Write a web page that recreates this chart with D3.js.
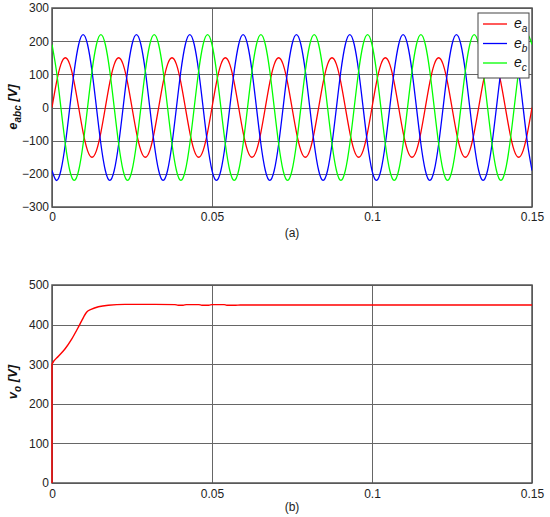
<!DOCTYPE html>
<html>
<head>
<meta charset="utf-8">
<script src="https://cdn.jsdelivr.net/npm/d3@7"></script>
<style>
  html, body { margin: 0; padding: 0; background: #fff; }
  svg { display: block; font-family: "Liberation Sans", Arial, sans-serif; }
</style>
</head>
<body>
<svg id="chart" width="550" height="517"></svg>
<script>
// ---------------- data ----------------
const sampleStep = 1 / 720;          // s, one sample every 30 electrical degrees (60 Hz)
const seriesNames = ["a", "b", "c"];
const seriesColors = ["#ff0000", "#0000ff", "#00ff00"];

const ea = [
  0, 75, 130, 150, 130, 75, 0, -75, -130, -150, -130, -75,
  0, 75, 130, 150, 130, 75, 0, -75, -130, -150, -130, -75,
  0, 75, 130, 150, 130, 75, 0, -75, -130, -150, -130, -75,
  0, 75, 130, 150, 130, 75, 0, -75, -130, -150, -130, -75,
  0, 75, 130, 150, 130, 75, 0, -75, -130, -150, -130, -75,
  0, 75, 130, 150, 130, 75, 0, -75, -130, -150, -130, -75,
  0, 75, 130, 150, 130, 75, 0, -75, -130, -150, -130, -75,
  0, 75, 130, 150, 130, 75, 0, -75, -130, -150, -130, -75,
  0, 75, 130, 150, 130, 75, 0, -75, -130, -150, -130, -75,
  0
];
const eb = [
  -190, -220, -190, -110, 0, 110, 190, 220, 190, 110, 0, -110,
  -190, -220, -190, -110, 0, 110, 190, 220, 190, 110, 0, -110,
  -190, -220, -190, -110, 0, 110, 190, 220, 190, 110, 0, -110,
  -190, -220, -190, -110, 0, 110, 190, 220, 190, 110, 0, -110,
  -190, -220, -190, -110, 0, 110, 190, 220, 190, 110, 0, -110,
  -190, -220, -190, -110, 0, 110, 190, 220, 190, 110, 0, -110,
  -190, -220, -190, -110, 0, 110, 190, 220, 190, 110, 0, -110,
  -190, -220, -190, -110, 0, 110, 190, 220, 190, 110, 0, -110,
  -190, -220, -190, -110, 0, 110, 190, 220, 190, 110, 0, -110,
  -190
];
const ec = [
  190, 110, 0, -110, -190, -220, -190, -110, 0, 110, 190, 220,
  190, 110, 0, -110, -190, -220, -190, -110, 0, 110, 190, 220,
  190, 110, 0, -110, -190, -220, -190, -110, 0, 110, 190, 220,
  190, 110, 0, -110, -190, -220, -190, -110, 0, 110, 190, 220,
  190, 110, 0, -110, -190, -220, -190, -110, 0, 110, 190, 220,
  190, 110, 0, -110, -190, -220, -190, -110, 0, 110, 190, 220,
  190, 110, 0, -110, -190, -220, -190, -110, 0, 110, 190, 220,
  190, 110, 0, -110, -190, -220, -190, -110, 0, 110, 190, 220,
  190, 110, 0, -110, -190, -220, -190, -110, 0, 110, 190, 220,
  190
];

const voTime = [0, 0, 0.002, 0.0041, 0.0062, 0.0082, 0.0093, 0.0108, 0.0124, 0.0145, 0.0176, 0.0228,
                0.0322, 0.0384, 0.0394, 0.041, 0.042, 0.0459, 0.0468, 0.049, 0.05, 0.0538,
                0.0546, 0.0574, 0.0588, 0.15];
const voValue = [0, 300, 320, 339, 364, 393, 410, 431, 439, 445, 449, 451,
                 451, 450.5, 449, 449, 450.5, 450.5, 449, 449, 450.5, 450.5,
                 449, 449, 449.5, 449.5];

const xTicks = [0, 0.05, 0.1, 0.15];
const xTickLabels = ["0", "0.05", "0.1", "0.15"];
const yTicksTop = [-300, -200, -100, 0, 100, 200, 300];
const yTicksBottom = [0, 100, 200, 300, 400, 500];

// ---------------- layout ----------------
const svg = d3.select("#chart");
const left = 52, right = 532;
const gridColor = "#666";
const boxColor = "#555";

const x = d3.scaleLinear().domain([0, 0.15]).range([left, right]);
const yTop = d3.scaleLinear().domain([-300, 300]).range([207, 8]);
const yBot = d3.scaleLinear().domain([0, 500]).range([483, 285]);

function panel(y, yTicks, xPad) {
  const g = svg.append("g");
  const [y0, y1] = y.range();
  g.append("g").attr("transform", `translate(${left},0)`)
    .call(d3.axisLeft(y).tickValues(yTicks).tickSize(-(right - left)).tickPadding(3).tickFormat(d3.format("d")))
    .call(a => a.select(".domain").remove())
    .call(a => a.selectAll("line").attr("stroke", gridColor).attr("stroke-width", 1).attr("shape-rendering", "crispEdges"))
    .call(a => a.selectAll("text").attr("fill", "#222").style("font-size", "12px"));
  g.append("g").attr("transform", `translate(0,${y0})`)
    .call(d3.axisBottom(x).tickValues(xTicks).tickSize(-(y0 - y1)).tickPadding(xPad)
      .tickFormat((d, i) => xTickLabels[i]))
    .call(a => a.select(".domain").remove())
    .call(a => a.selectAll("line").attr("stroke", gridColor).attr("stroke-width", 1).attr("shape-rendering", "crispEdges"))
    .call(a => a.selectAll("text").attr("fill", "#222").style("font-size", "12px"));
  return g;
}

function frame(y) {
  const [y0, y1] = y.range();
  svg.append("rect").attr("x", left).attr("y", y1).attr("width", right - left).attr("height", y0 - y1)
    .attr("fill", "none").attr("stroke", boxColor).attr("stroke-width", 1.5);
}

// ---- top panel ----
panel(yTop, yTicksTop, 5);
frame(yTop);
const topSeries = [ea, eb, ec];
const lineTop = d3.line().x((d, i) => x(i * sampleStep)).y(d => yTop(d)).curve(d3.curveNatural);
svg.append("defs").append("clipPath").attr("id", "clipTop")
  .append("rect").attr("x", left).attr("y", 8).attr("width", right - left).attr("height", 199);
topSeries.forEach((s, k) => {
  svg.append("path").datum(s).attr("d", lineTop).attr("fill", "none")
    .attr("stroke", seriesColors[k]).attr("stroke-width", 1.3).attr("clip-path", "url(#clipTop)");
});

// legend
const lg = svg.append("g");
lg.append("rect").attr("x", 478).attr("y", 13).attr("width", 51).attr("height", 65)
  .attr("fill", "#fff").attr("stroke", "#444").attr("stroke-width", 1);
seriesNames.forEach((n, k) => {
  const yy = 24 + k * 19.5;
  lg.append("line").attr("x1", 483).attr("x2", 507).attr("y1", yy).attr("y2", yy)
    .attr("stroke", seriesColors[k]).attr("stroke-width", 1.3);
  const t = lg.append("text").attr("x", 514).attr("y", yy + 4).attr("fill", "#111")
    .style("font-size", "14px").style("font-style", "italic");
  t.append("tspan").text("e");
  t.append("tspan").attr("dy", 4).style("font-size", "10px").text(n);
});

// y label top
const ylt = svg.append("text").attr("transform", "translate(17,107) rotate(-90)")
  .attr("text-anchor", "middle").attr("fill", "#111")
  .style("font-size", "13px").style("font-weight", "bold").style("font-style", "italic");
ylt.append("tspan").text("e");
ylt.append("tspan").attr("dy", 4).style("font-size", "10px").text("abc");
ylt.append("tspan").attr("dy", -4).text(" [V]");

svg.append("text").attr("x", 292).attr("y", 237).attr("text-anchor", "middle")
  .attr("fill", "#222").style("font-size", "12px").text("(a)");

// ---- bottom panel ----
panel(yBot, yTicksBottom, 6);
frame(yBot);
const voData = voTime.map((t, i) => [t, voValue[i]]);
const lineBot = d3.line().x(d => x(d[0])).y(d => yBot(d[1])).curve(d3.curveMonotoneX);
svg.append("path").datum(voData).attr("d", lineBot).attr("fill", "none")
  .attr("stroke", "#ff0000").attr("stroke-width", 1.4);

const ylb = svg.append("text").attr("transform", "translate(17,382) rotate(-90)")
  .attr("text-anchor", "middle").attr("fill", "#111")
  .style("font-size", "13px").style("font-weight", "bold").style("font-style", "italic");
ylb.append("tspan").text("v");
ylb.append("tspan").attr("dy", 4).style("font-size", "10px").text("o");
ylb.append("tspan").attr("dy", -4).text(" [V]");

svg.append("text").attr("x", 292).attr("y", 511).attr("text-anchor", "middle")
  .attr("fill", "#222").style("font-size", "12px").text("(b)");
</script>
</body>
</html>
